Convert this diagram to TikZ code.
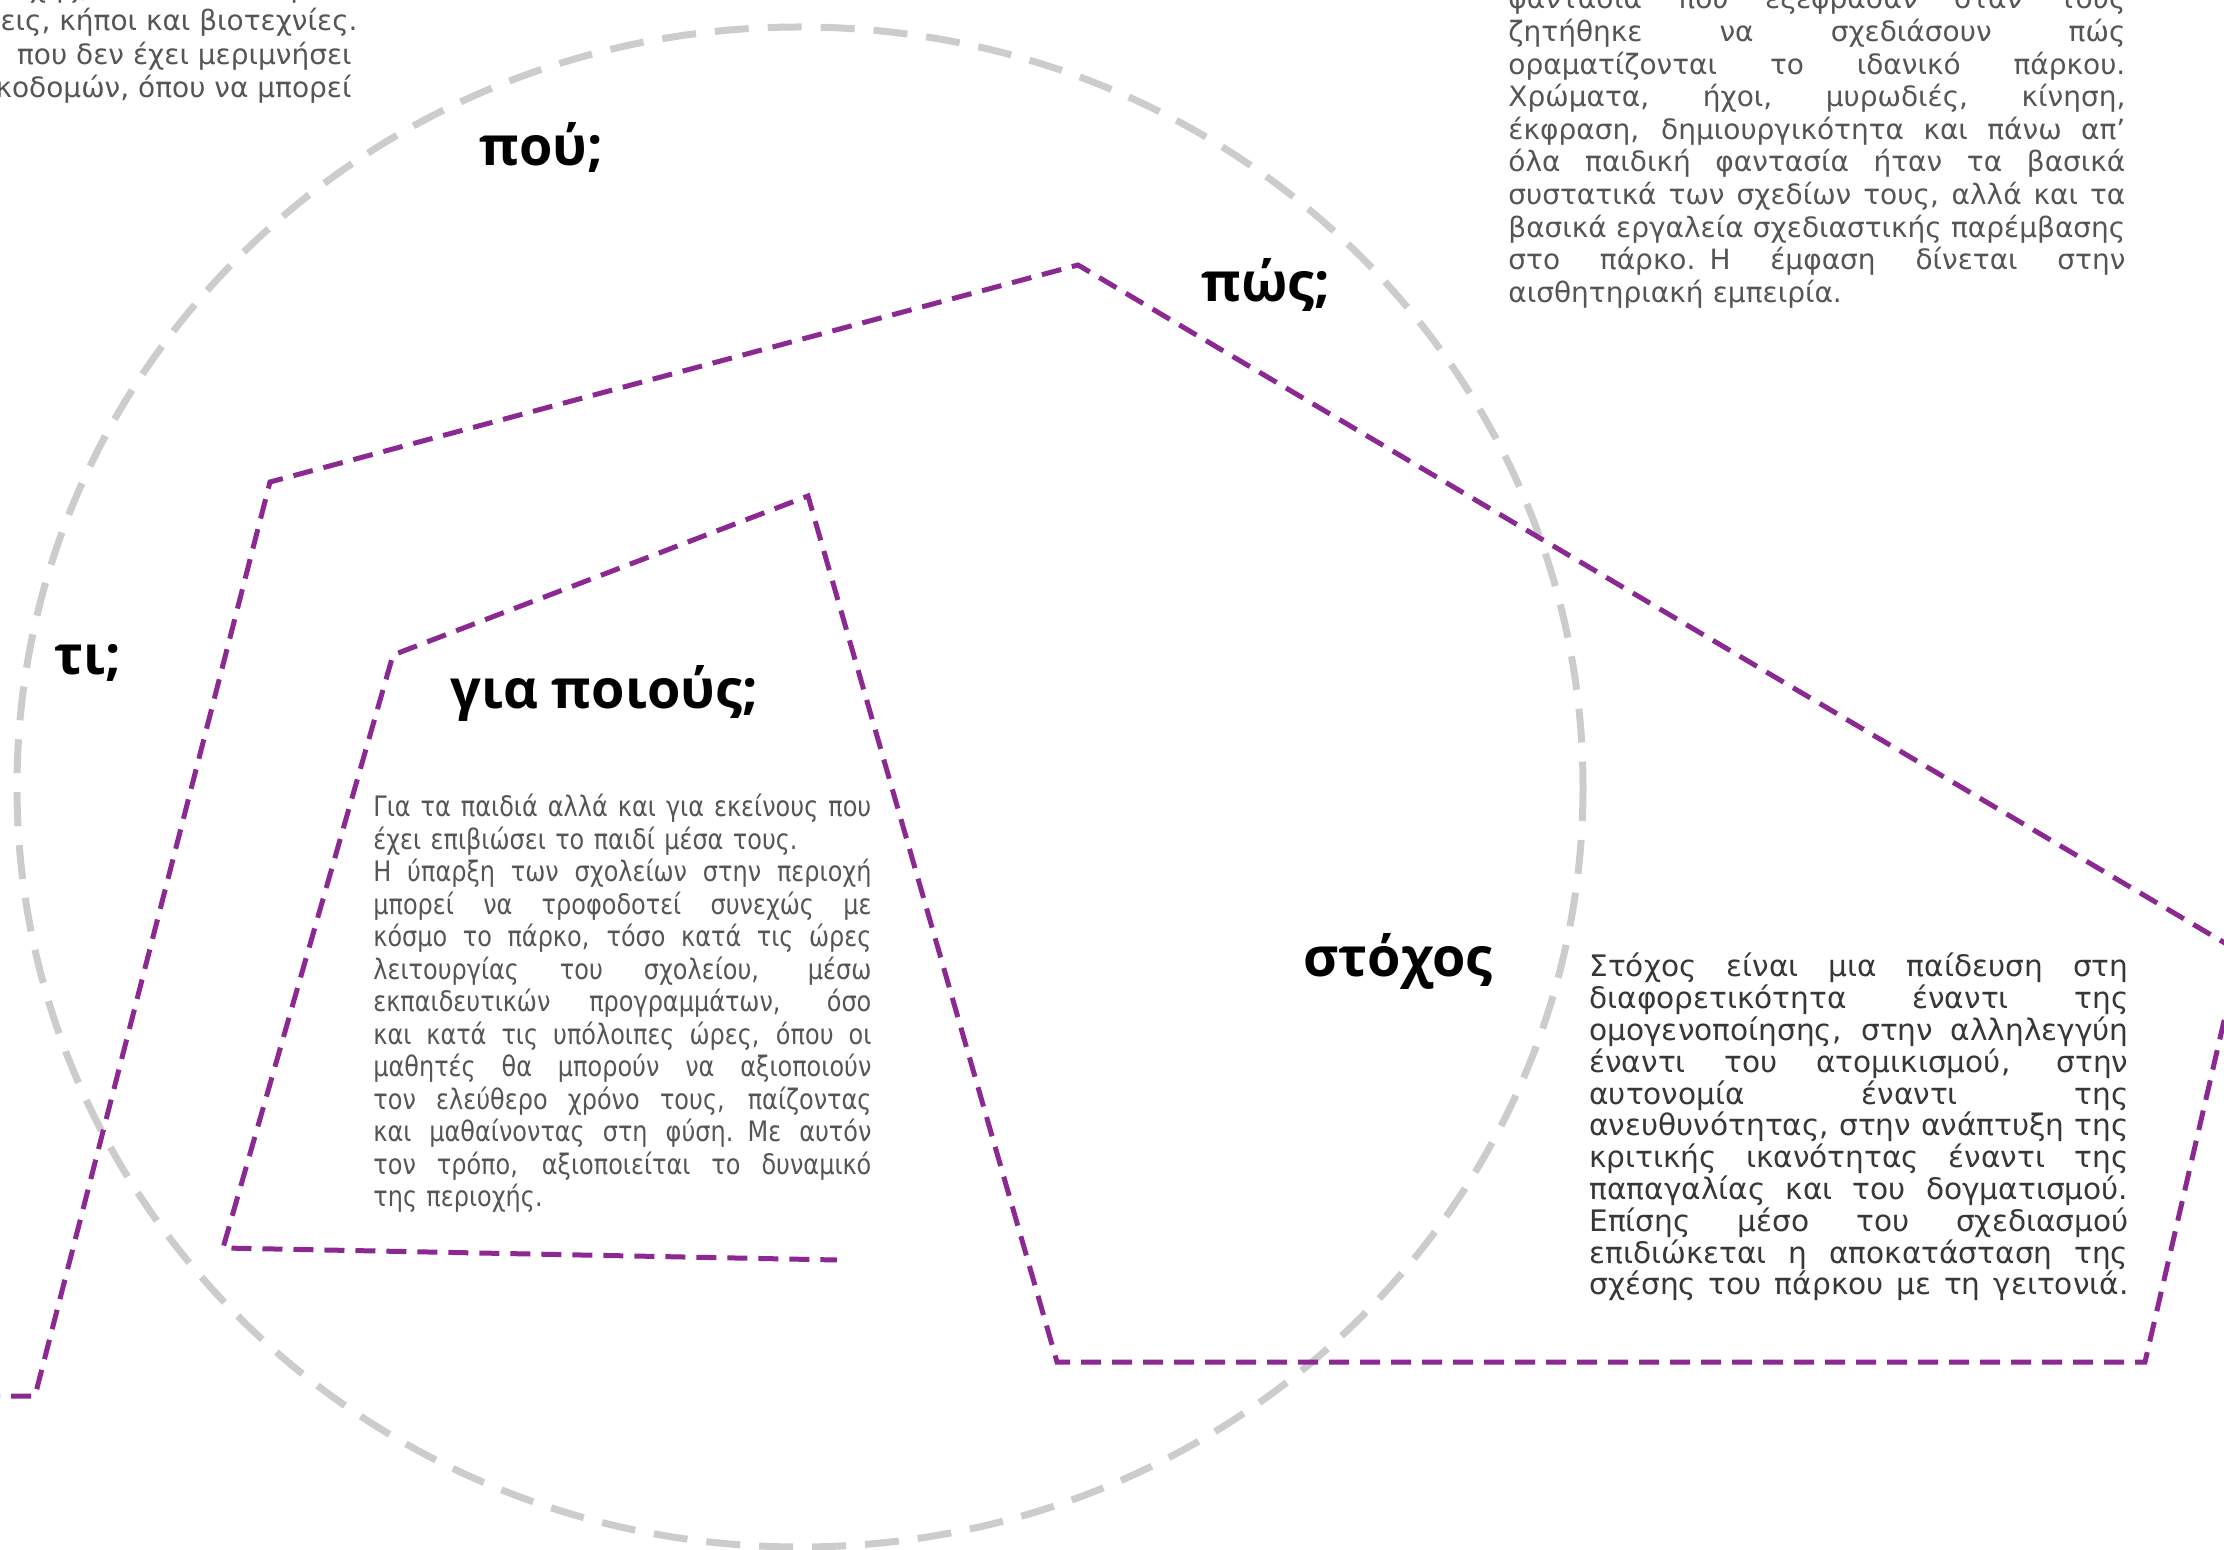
\documentclass[tikz,border=0pt]{standalone}
\usepackage{fontspec}
\setmainfont{DejaVu Sans}
\newfontfamily\headfont{Open Sans}
\newfontfamily\narrowfont{DejaVu Sans}[FakeStretch=0.85]
\usepackage{tikz}
\definecolor{parkpurple}{RGB}{140,40,145}
\definecolor{ringgray}{RGB}{204,204,204}
\definecolor{bodygray}{RGB}{85,85,85}
\definecolor{goalgray}{RGB}{55,55,55}
\newlength\colw
\newcommand\fullline[1]{\leavevmode\hbox to \colw{\spaceskip=.32em plus 1fil\relax #1}}

\begin{document}
\begin{tikzpicture}[x=0.5pt,y=-0.5pt,
  ring/.style={draw=ringgray,line width=3.5pt,dash pattern=on 17pt off 9.5pt},
  fence/.style={draw=parkpurple,line width=2.5pt,dash pattern=on 10pt off 5.5pt},
  head/.style={font=\headfont\bfseries\fontsize{27}{32}\selectfont,anchor=base west,inner sep=0pt},
  body/.style={font=\fontsize{14}{16.3}\selectfont,text=bodygray,align=left,anchor=base west,inner sep=0pt},
  cut/.style={font=\fontsize{14}{16.3}\selectfont,text=bodygray,anchor=base east,inner sep=0pt}]
\useasboundingbox (0,0) rectangle (2224,1550);
\clip (0,0) rectangle (2224,1550);

\coordinate (ringc) at (800,787);
\draw[ring] (ringc) ellipse [x radius=783, y radius=760];

\coordinate (f0) at (-20,1396);
\coordinate (f1) at (35,1396);
\coordinate (f2) at (270,482);
\coordinate (f3) at (1078,265);
\coordinate (f4) at (2240,952);
\coordinate (f5) at (2145,1362);
\coordinate (f6) at (1057,1362);
\coordinate (f7) at (808,496);
\coordinate (f8) at (393,655);
\coordinate (f9) at (223,1248);
\coordinate (f10) at (837,1260);
\draw[fence] (f0) -- (f1) -- (f2) -- (f3) -- (f4) -- (f5) -- (f6) -- (f7) -- (f8) -- (f9) -- (f10);

\node[cut] (old1) at (352,-2) {εποχής, όταν τα Λατομεία};
\node[cut] (old2) at (358,31) {λεις, κήποι και βιοτεχνίες.};
\node[cut] (old3) at (352,65) {που δεν έχει μεριμνήσει};
\node[cut] (old4) at (352,98) {οικοδομών, όπου να μπορεί};

\node[head] (pou) at (479,166) {πού;};
\node[head] (pos) at (1201,302) {πώς;};
\node[head] (ti) at (54,675) {τι;};
\node[head] (giapoious) at (450,709) {για ποιούς;};
\node[head] (stochos) at (1303,977) {στόχος};

\setlength\colw{308.5pt}
\node[body,text width=\colw] (howtext) at (1508,9) {\fullline{φαντασία που εξέφρασαν όταν τους}\\
\fullline{ζητήθηκε να σχεδιάσουν πώς}\\
\fullline{οραματίζονται το ιδανικό πάρκου.}\\
\fullline{Χρώματα, ήχοι, μυρωδιές, κίνηση,}\\
\fullline{έκφραση, δημιουργικότητα και πάνω απ’}\\
\fullline{όλα παιδική φαντασία ήταν τα βασικά}\\
\fullline{συστατικά των σχεδίων τους, αλλά και τα}\\
\fullline{βασικά εργαλεία σχεδιαστικής παρέμβασης}\\
\fullline{στο πάρκο. Η έμφαση δίνεται στην}\\
αισθητηριακή εμπειρία.};

\setlength\colw{249pt}
\node[body,text width=\colw,font=\narrowfont\fontsize{14.1}{16.25}\selectfont] (whotext) at (373,817) {\fullline{Για τα παιδιά αλλά και για εκείνους που}\\
έχει επιβιώσει το παιδί μέσα τους.\\
\fullline{Η ύπαρξη των σχολείων στην περιοχή}\\
\fullline{μπορεί να τροφοδοτεί συνεχώς με}\\
\fullline{κόσμο το πάρκο, τόσο κατά τις ώρες}\\
\fullline{λειτουργίας του σχολείου, μέσω}\\
\fullline{εκπαιδευτικών προγραμμάτων, όσο}\\
\fullline{και κατά τις υπόλοιπες ώρες, όπου οι}\\
\fullline{μαθητές θα μπορούν να αξιοποιούν}\\
\fullline{τον ελεύθερο χρόνο τους, παίζοντας}\\
\fullline{και μαθαίνοντας στη φύση. Με αυτόν}\\
\fullline{τον τρόπο, αξιοποιείται το δυναμικό}\\
της περιοχής.};

\setlength\colw{269.5pt}
\node[body,text width=\colw,text=goalgray,font=\fontsize{14.8}{15.9}\selectfont] (goaltext) at (1589,977) {\fullline{Στόχος είναι μια παίδευση στη}\\
\fullline{διαφορετικότητα έναντι της}\\
\fullline{ομογενοποίησης, στην αλληλεγγύη}\\
\fullline{έναντι του ατομικισμού, στην}\\
\fullline{αυτονομία έναντι της}\\
\fullline{ανευθυνότητας, στην ανάπτυξη της}\\
\fullline{κριτικής ικανότητας έναντι της}\\
\fullline{παπαγαλίας και του δογματισμού.}\\
\fullline{Επίσης μέσο του σχεδιασμού}\\
\fullline{επιδιώκεται η αποκατάσταση της}\\
\fullline{σχέσης του πάρκου με τη γειτονιά.}};
\end{tikzpicture}
\end{document}
